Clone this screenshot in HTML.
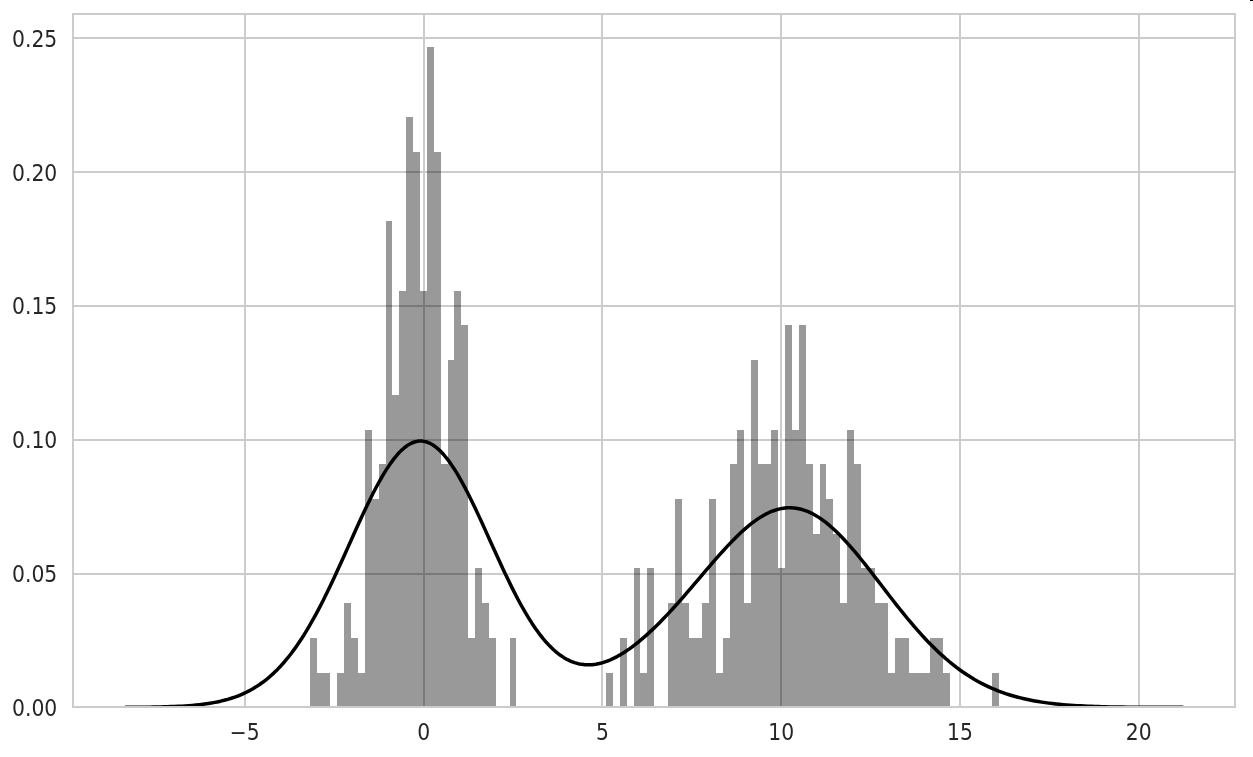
<!DOCTYPE html><html><head><meta charset="utf-8"><title>plot</title><style>html,body{margin:0;padding:0;background:#fff;overflow:hidden}svg{display:block}text{font-family:"DejaVu Sans","Liberation Sans",sans-serif;font-size:20.35px;fill:#262626}</style></head><body>
<svg width="1253" height="757" viewBox="0 0 1253 757">
<rect width="1253" height="757" fill="#fff"/>
<g stroke="#cccccc" stroke-width="2" fill="none">
<line x1="245.00" y1="14.00" x2="245.00" y2="707.00"/>
<line x1="424.00" y1="14.00" x2="424.00" y2="707.00"/>
<line x1="602.00" y1="14.00" x2="602.00" y2="707.00"/>
<line x1="781.00" y1="14.00" x2="781.00" y2="707.00"/>
<line x1="960.00" y1="14.00" x2="960.00" y2="707.00"/>
<line x1="1139.00" y1="14.00" x2="1139.00" y2="707.00"/>
<line x1="73.00" y1="574.00" x2="1235.00" y2="574.00"/>
<line x1="73.00" y1="440.00" x2="1235.00" y2="440.00"/>
<line x1="73.00" y1="306.00" x2="1235.00" y2="306.00"/>
<line x1="73.00" y1="172.00" x2="1235.00" y2="172.00"/>
<line x1="73.00" y1="38.00" x2="1235.00" y2="38.00"/>
</g>
<g fill="#000" fill-opacity="0.4" shape-rendering="crispEdges">
<rect x="310" y="638" width="7" height="70"/>
<rect x="317" y="673" width="7" height="35"/>
<rect x="324" y="673" width="6" height="35"/>
<rect x="337" y="673" width="7" height="35"/>
<rect x="344" y="603" width="7" height="105"/>
<rect x="351" y="638" width="7" height="70"/>
<rect x="358" y="673" width="7" height="35"/>
<rect x="365" y="430" width="7" height="278"/>
<rect x="372" y="499" width="7" height="209"/>
<rect x="379" y="464" width="7" height="244"/>
<rect x="386" y="221" width="6" height="487"/>
<rect x="392" y="395" width="7" height="313"/>
<rect x="399" y="291" width="7" height="417"/>
<rect x="406" y="117" width="7" height="591"/>
<rect x="413" y="152" width="7" height="556"/>
<rect x="420" y="291" width="7" height="417"/>
<rect x="427" y="47" width="7" height="661"/>
<rect x="434" y="152" width="7" height="556"/>
<rect x="441" y="464" width="7" height="244"/>
<rect x="448" y="360" width="6" height="348"/>
<rect x="454" y="291" width="7" height="417"/>
<rect x="461" y="325" width="7" height="383"/>
<rect x="468" y="638" width="7" height="70"/>
<rect x="475" y="568" width="7" height="140"/>
<rect x="482" y="603" width="7" height="105"/>
<rect x="489" y="638" width="7" height="70"/>
<rect x="510" y="638" width="6" height="70"/>
<rect x="606" y="673" width="7" height="35"/>
<rect x="620" y="638" width="7" height="70"/>
<rect x="634" y="568" width="6" height="140"/>
<rect x="640" y="673" width="7" height="35"/>
<rect x="647" y="568" width="7" height="140"/>
<rect x="668" y="603" width="7" height="105"/>
<rect x="675" y="499" width="7" height="209"/>
<rect x="682" y="603" width="7" height="105"/>
<rect x="689" y="638" width="7" height="70"/>
<rect x="696" y="638" width="6" height="70"/>
<rect x="702" y="603" width="7" height="105"/>
<rect x="709" y="499" width="7" height="209"/>
<rect x="716" y="673" width="7" height="35"/>
<rect x="723" y="638" width="7" height="70"/>
<rect x="730" y="464" width="7" height="244"/>
<rect x="737" y="430" width="7" height="278"/>
<rect x="744" y="603" width="7" height="105"/>
<rect x="751" y="360" width="7" height="348"/>
<rect x="758" y="464" width="6" height="244"/>
<rect x="764" y="464" width="7" height="244"/>
<rect x="771" y="430" width="7" height="278"/>
<rect x="778" y="568" width="7" height="140"/>
<rect x="785" y="325" width="7" height="383"/>
<rect x="792" y="430" width="7" height="278"/>
<rect x="799" y="325" width="7" height="383"/>
<rect x="806" y="464" width="7" height="244"/>
<rect x="813" y="534" width="7" height="174"/>
<rect x="820" y="464" width="6" height="244"/>
<rect x="826" y="499" width="7" height="209"/>
<rect x="833" y="534" width="7" height="174"/>
<rect x="840" y="603" width="7" height="105"/>
<rect x="847" y="430" width="7" height="278"/>
<rect x="854" y="464" width="7" height="244"/>
<rect x="861" y="568" width="7" height="140"/>
<rect x="868" y="568" width="7" height="140"/>
<rect x="875" y="603" width="7" height="105"/>
<rect x="882" y="603" width="6" height="105"/>
<rect x="888" y="673" width="7" height="35"/>
<rect x="895" y="638" width="7" height="70"/>
<rect x="902" y="638" width="7" height="70"/>
<rect x="909" y="673" width="7" height="35"/>
<rect x="916" y="673" width="7" height="35"/>
<rect x="923" y="673" width="7" height="35"/>
<rect x="930" y="638" width="7" height="70"/>
<rect x="937" y="638" width="6" height="70"/>
<rect x="943" y="673" width="7" height="35"/>
<rect x="992" y="673" width="7" height="35"/>
</g>
<clipPath id="ax"><rect x="73.00" y="14.00" width="1162.00" height="693.00"/></clipPath>
<polyline clip-path="url(#ax)" points="125.06,707.20 128.60,707.20 132.14,707.20 135.68,707.20 139.22,707.20 142.76,707.20 146.30,707.19 149.84,707.14 153.38,707.09 156.92,707.02 160.46,706.94 164.00,706.85 167.54,706.74 171.08,706.62 174.62,706.48 178.15,706.32 181.69,706.13 185.23,705.91 188.77,705.66 192.31,705.37 195.85,705.05 199.39,704.67 202.93,704.25 206.47,703.77 210.01,703.23 213.55,702.62 217.09,701.94 220.63,701.17 224.17,700.31 227.71,699.35 231.25,698.28 234.78,697.09 238.32,695.77 241.86,694.31 245.40,692.70 248.94,690.93 252.48,688.99 256.02,686.87 259.56,684.55 263.10,682.03 266.64,679.28 270.18,676.32 273.72,673.11 277.26,669.65 280.80,665.94 284.34,661.97 287.87,657.73 291.41,653.21 294.95,648.41 298.49,643.33 302.03,637.97 305.57,632.33 309.11,626.41 312.65,620.23 316.19,613.79 319.73,607.10 323.27,600.18 326.81,593.05 330.35,585.73 333.89,578.23 337.43,570.59 340.97,562.84 344.50,555.00 348.04,547.11 351.58,539.21 355.12,531.34 358.66,523.54 362.20,515.84 365.74,508.29 369.28,500.94 372.82,493.83 376.36,487.01 379.90,480.50 383.44,474.37 386.98,468.65 390.52,463.38 394.06,458.59 397.60,454.32 401.13,450.61 404.67,447.47 408.21,444.93 411.75,443.01 415.29,441.73 418.83,441.09 422.37,441.10 425.91,441.76 429.45,443.07 432.99,445.01 436.53,447.58 440.07,450.75 443.61,454.50 447.15,458.80 450.69,463.63 454.23,468.94 457.76,474.70 461.30,480.88 464.84,487.42 468.38,494.29 471.92,501.43 475.46,508.81 479.00,516.37 482.54,524.07 486.08,531.86 489.62,539.70 493.16,547.54 496.70,555.34 500.24,563.06 503.78,570.66 507.32,578.10 510.86,585.36 514.39,592.40 517.93,599.19 521.47,605.71 525.01,611.93 528.55,617.84 532.09,623.43 535.63,628.67 539.17,633.57 542.71,638.10 546.25,642.27 549.79,646.08 553.33,649.51 556.87,652.59 560.41,655.30 563.95,657.65 567.49,659.66 571.02,661.32 574.56,662.65 578.10,663.66 581.64,664.36 585.18,664.75 588.72,664.85 592.26,664.67 595.80,664.23 599.34,663.53 602.88,662.58 606.42,661.40 609.96,660.01 613.50,658.40 617.04,656.59 620.58,654.60 624.12,652.42 627.65,650.08 631.19,647.57 634.73,644.91 638.27,642.11 641.81,639.17 645.35,636.10 648.89,632.91 652.43,629.60 655.97,626.19 659.51,622.67 663.05,619.06 666.59,615.36 670.13,611.58 673.67,607.72 677.21,603.80 680.75,599.81 684.28,595.78 687.82,591.70 691.36,587.58 694.90,583.44 698.44,579.28 701.98,575.12 705.52,570.96 709.06,566.83 712.60,562.72 716.14,558.65 719.68,554.65 723.22,550.71 726.76,546.85 730.30,543.10 733.84,539.46 737.38,535.95 740.91,532.58 744.45,529.36 747.99,526.32 751.53,523.47 755.07,520.82 758.61,518.38 762.15,516.17 765.69,514.19 769.23,512.46 772.77,510.99 776.31,509.79 779.85,508.86 783.39,508.21 786.93,507.84 790.47,507.76 794.01,507.97 797.54,508.47 801.08,509.26 804.62,510.33 808.16,511.69 811.70,513.32 815.24,515.22 818.78,517.38 822.32,519.80 825.86,522.46 829.40,525.35 832.94,528.46 836.48,531.77 840.02,535.28 843.56,538.96 847.10,542.81 850.64,546.81 854.17,550.93 857.71,555.17 861.25,559.52 864.79,563.94 868.33,568.43 871.87,572.98 875.41,577.56 878.95,582.17 882.49,586.78 886.03,591.39 889.57,595.98 893.11,600.54 896.65,605.06 900.19,609.52 903.73,613.92 907.27,618.24 910.80,622.48 914.34,626.63 917.88,630.69 921.42,634.64 924.96,638.48 928.50,642.20 932.04,645.81 935.58,649.30 939.12,652.67 942.66,655.91 946.20,659.02 949.74,662.01 953.28,664.87 956.82,667.61 960.36,670.22 963.90,672.70 967.43,675.07 970.97,677.31 974.51,679.44 978.05,681.45 981.59,683.35 985.13,685.15 988.67,686.83 992.21,688.42 995.75,689.91 999.29,691.31 1002.83,692.61 1006.37,693.83 1009.91,694.97 1013.45,696.03 1016.99,697.01 1020.53,697.93 1024.06,698.78 1027.60,699.56 1031.14,700.28 1034.68,700.95 1038.22,701.56 1041.76,702.13 1045.30,702.64 1048.84,703.12 1052.38,703.55 1055.92,703.95 1059.46,704.31 1063.00,704.64 1066.54,704.93 1070.08,705.21 1073.62,705.45 1077.15,705.67 1080.69,705.87 1084.23,706.05 1087.77,706.21 1091.31,706.35 1094.85,706.48 1098.39,706.60 1101.93,706.70 1105.47,706.79 1109.01,706.88 1112.55,706.95 1116.09,707.01 1119.63,707.07 1123.17,707.12 1126.71,707.16 1130.25,707.20 1133.78,707.20 1137.32,707.20 1140.86,707.20 1144.40,707.20 1147.94,707.20 1151.48,707.20 1155.02,707.20 1158.56,707.20 1162.10,707.20 1165.64,707.20 1169.18,707.20 1172.72,707.20 1176.26,707.20 1179.80,707.20 1183.34,707.20" fill="none" stroke="#000" stroke-width="3.5" stroke-linejoin="round" stroke-linecap="butt"/>
<rect x="73.00" y="14.00" width="1162.00" height="693.00" fill="none" stroke="#cccccc" stroke-width="2"/>
<text transform="translate(244.80,739.60) scale(1,1.09)" text-anchor="middle">−5</text>
<text transform="translate(423.60,739.60) scale(1,1.09)" text-anchor="middle">0</text>
<text transform="translate(602.40,739.60) scale(1,1.09)" text-anchor="middle">5</text>
<text transform="translate(781.20,739.60) scale(1,1.09)" text-anchor="middle">10</text>
<text transform="translate(960.00,739.60) scale(1,1.09)" text-anchor="middle">15</text>
<text transform="translate(1138.80,739.60) scale(1,1.09)" text-anchor="middle">20</text>
<text transform="translate(57.30,715.94) scale(1,1.09)" text-anchor="end">0.00</text>
<text transform="translate(57.30,582.11) scale(1,1.09)" text-anchor="end">0.05</text>
<text transform="translate(57.30,448.28) scale(1,1.09)" text-anchor="end">0.10</text>
<text transform="translate(57.30,314.45) scale(1,1.09)" text-anchor="end">0.15</text>
<text transform="translate(57.30,180.62) scale(1,1.09)" text-anchor="end">0.20</text>
<text transform="translate(57.30,46.79) scale(1,1.09)" text-anchor="end">0.25</text>
<rect x="1250" y="0" width="3" height="1" fill="#000"/>
</svg></body></html>
